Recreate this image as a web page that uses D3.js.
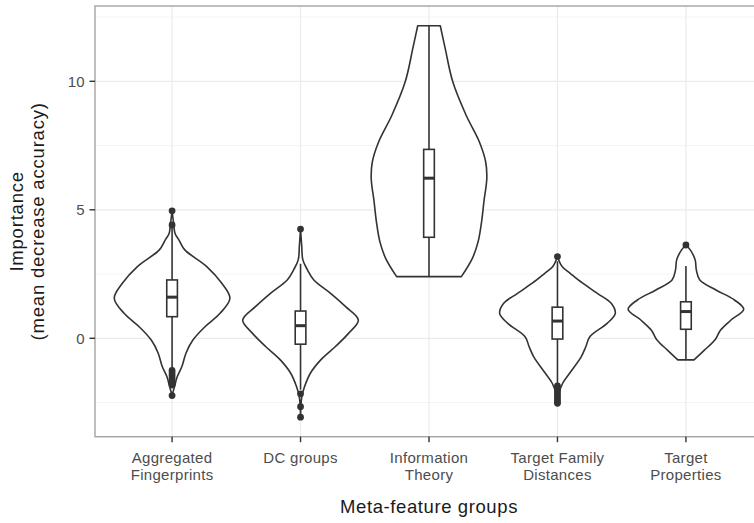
<!DOCTYPE html>
<html>
<head>
<meta charset="utf-8">
<script src="https://cdn.jsdelivr.net/npm/d3@7"></script>
<style>
  body { margin: 0; background: #fff; }
  svg { display: block; font-family: "Liberation Sans", Arial, Helvetica, sans-serif; }
</style>
</head>
<body>
<div id="chart"></div>
<script>
(function () {
    'use strict';

    // categories on the x axis, tick labels split on "\n"
    var groups = ['Aggregated\nFingerprints', 'DC groups', 'Information\nTheory', 'Target Family\nDistances', 'Target\nProperties'];

    // violin outlines: [importance, relative density]
    var violinAF = [[4.96, 0], [4.41, 0.03], [4.09, 0.05], [3.82, 0.12], [3.44, 0.22], [2.79, 0.6], [2.14, 0.86], [1.56, 1.0],
        [0.97, 0.83], [0.45, 0.57], [-0.07, 0.36], [-0.58, 0.24], [-1.1, 0.17], [-1.49, 0.09], [-1.9, 0.04], [-2.21, 0]];
    var violinDC = [[4.25, 0], [3.6, 0.02], [3.05, 0.04], [2.66, 0.12], [2.27, 0.23], [1.75, 0.52], [1.23, 0.78], [0.71, 1.0],
        [0.19, 0.83], [-0.33, 0.6], [-0.84, 0.35], [-1.36, 0.17], [-1.88, 0.07], [-2.3, 0.02], [-3.07, 0]];
    var violinIT = [[12.16, 0.195], [11.28, 0.28], [9.99, 0.41], [8.69, 0.64], [7.65, 0.87], [6.87, 0.98], [6.23, 1.0],
        [5.32, 0.95], [4.54, 0.91], [3.76, 0.85], [3.11, 0.75], [2.40, 0.56]];
    var violinTF = [[3.18, 0], [2.79, 0.08], [2.53, 0.22], [2.27, 0.36], [1.75, 0.69], [1.36, 0.93], [0.97, 1.0], [0.58, 0.86],
        [0.06, 0.56], [-0.33, 0.49], [-0.72, 0.41], [-1.36, 0.21], [-1.75, 0.09], [-2.2, 0.02], [-2.53, 0]];
    var violinTP = [[3.63, 0], [3.44, 0.075], [3.05, 0.16], [2.66, 0.18], [2.27, 0.24], [1.88, 0.52], [1.49, 0.84], [1.13, 1.0],
        [0.71, 0.78], [0.32, 0.6], [-0.07, 0.5], [-0.46, 0.32], [-0.84, 0.14]];
    var violins = [violinAF, violinDC, violinIT, violinTF, violinTP];

    // box plot stats: [lower whisker, q1, median, q3, upper whisker]
    var boxStats = [
        [-1.2, 0.84, 1.6, 2.27, 4.3],
        [-2.0, -0.23, 0.49, 1.06, 2.9],
        [2.40, 3.93, 6.23, 7.35, 12.16],
        [-1.8, -0.03, 0.67, 1.21, 3.0],
        [-0.84, 0.35, 1.04, 1.42, 2.81]
    ];

    // outlier points
    var outliers = [
        [4.96, 4.41, -1.25, -1.35, -1.45, -1.55, -1.65, -1.75, -1.82, -2.23],
        [4.25, -2.16, -2.66, -3.07],
        [],
        [3.18, -1.85, -1.95, -2.05, -2.15, -2.25, -2.35, -2.45, -2.53],
        [3.63]
    ];

    var yTicks = [0, 5, 10];
    var yMinor = [-2.5, 2.5, 7.5, 12.5];

    var width = 754;
    var height = 523;
    var margin = { top: 6, right: -9, bottom: 86.3, left: 95 };
    var inkColor = '#333333';
    var lineW = 1.6;

    var svg = d3.select('#chart').append('svg')
        .attr('width', width)
        .attr('height', height);

    var plotLeft = margin.left;
    var plotRight = width - margin.right;
    var plotTop = margin.top;
    var plotBottom = height - margin.bottom;

    var x = d3.scalePoint()
        .domain(groups)
        .range([plotLeft, plotRight])
        .padding(0.6);

    var y = d3.scaleLinear()
        .domain([-3.83, 12.93])
        .range([plotBottom, plotTop]);

    var step = x.step();
    var halfMax = step * 0.45;
    var boxHalf = step * 0.0415;

    // grid
    var grid = svg.append('g');
    grid.selectAll('.minor')
        .data(yMinor)
        .enter().append('line')
        .attr('x1', plotLeft).attr('x2', plotRight)
        .attr('y1', function (d) { return y(d); })
        .attr('y2', function (d) { return y(d); })
        .attr('stroke', '#f2f2f2')
        .attr('stroke-width', 0.9);
    grid.selectAll('.major-y')
        .data(yTicks)
        .enter().append('line')
        .attr('x1', plotLeft).attr('x2', plotRight)
        .attr('y1', function (d) { return y(d); })
        .attr('y2', function (d) { return y(d); })
        .attr('stroke', '#ebebeb')
        .attr('stroke-width', 1.2);
    grid.selectAll('.major-x')
        .data(groups)
        .enter().append('line')
        .attr('y1', plotTop).attr('y2', plotBottom)
        .attr('x1', function (d) { return x(d); })
        .attr('x2', function (d) { return x(d); })
        .attr('stroke', '#ebebeb')
        .attr('stroke-width', 1.2);

    // violins
    var plot = svg.append('g');
    groups.forEach(function (g, i) {
        var cx = x(g);
        var area = d3.area()
            .curve(d3.curveCatmullRom.alpha(0.5))
            .y(function (d) { return y(d[0]); })
            .x0(function (d) { return cx - d[1] * halfMax; })
            .x1(function (d) { return cx + d[1] * halfMax; });

        var pts = violins[i];
        // outline as closed path: left side top to bottom, right side back up
        var left = d3.line()
            .curve(d3.curveCatmullRom.alpha(0.5))
            .x(function (d) { return cx - d[1] * halfMax; })
            .y(function (d) { return y(d[0]); });
        var right = d3.line()
            .curve(d3.curveCatmullRom.alpha(0.5))
            .x(function (d) { return cx + d[1] * halfMax; })
            .y(function (d) { return y(d[0]); });

        plot.append('path')
            .attr('d', area(pts))
            .attr('fill', '#fff')
            .attr('stroke', 'none');
        plot.append('path')
            .attr('d', left(pts) + 'L' + right(pts.slice().reverse()).slice(1) + 'Z')
            .attr('fill', 'none')
            .attr('stroke', inkColor)
            .attr('stroke-width', lineW)
            .attr('stroke-linejoin', 'round');

        var s = boxStats[i];
        var box = plot.append('g');
        box.append('line')
            .attr('x1', cx).attr('x2', cx)
            .attr('y1', y(s[0])).attr('y2', y(s[4]))
            .attr('stroke', inkColor)
            .attr('stroke-width', lineW);
        box.append('rect')
            .attr('x', cx - boxHalf)
            .attr('width', boxHalf * 2)
            .attr('y', y(s[3]))
            .attr('height', y(s[1]) - y(s[3]))
            .attr('fill', '#fff')
            .attr('stroke', inkColor)
            .attr('stroke-width', lineW);
        box.append('line')
            .attr('x1', cx - boxHalf).attr('x2', cx + boxHalf)
            .attr('y1', y(s[2])).attr('y2', y(s[2]))
            .attr('stroke', inkColor)
            .attr('stroke-width', 3);

        box.selectAll('circle')
            .data(outliers[i])
            .enter().append('circle')
            .attr('cx', cx)
            .attr('cy', function (d) { return y(d); })
            .attr('r', 3.4)
            .attr('fill', inkColor);
    });

    // panel border
    svg.append('rect')
        .attr('x', plotLeft).attr('y', plotTop)
        .attr('width', plotRight - plotLeft)
        .attr('height', plotBottom - plotTop)
        .attr('fill', 'none')
        .attr('stroke', '#a3a3a3')
        .attr('stroke-width', 1.4);

    // y axis ticks and labels
    var yAxis = svg.append('g');
    yAxis.selectAll('line')
        .data(yTicks)
        .enter().append('line')
        .attr('x1', plotLeft - 5.5).attr('x2', plotLeft)
        .attr('y1', function (d) { return y(d); })
        .attr('y2', function (d) { return y(d); })
        .attr('stroke', inkColor)
        .attr('stroke-width', 1.4);
    yAxis.selectAll('text')
        .data(yTicks)
        .enter().append('text')
        .attr('x', plotLeft - 10.5)
        .attr('y', function (d) { return y(d); })
        .attr('dy', '0.36em')
        .attr('text-anchor', 'end')
        .attr('font-size', 15)
        .attr('fill', '#4d4d4d')
        .text(function (d) { return d; });

    // x axis ticks and labels
    var xAxis = svg.append('g');
    xAxis.selectAll('line')
        .data(groups)
        .enter().append('line')
        .attr('y1', plotBottom).attr('y2', plotBottom + 5.5)
        .attr('x1', function (d) { return x(d); })
        .attr('x2', function (d) { return x(d); })
        .attr('stroke', inkColor)
        .attr('stroke-width', 1.4);
    xAxis.selectAll('text')
        .data(groups)
        .enter().append('text')
        .attr('text-anchor', 'middle')
        .attr('font-size', 15)
        .attr('letter-spacing', 0.3)
        .attr('fill', '#4d4d4d')
        .each(function (d) {
            var t = d3.select(this);
            d.split('\n').forEach(function (line, k) {
                t.append('tspan')
                    .attr('x', x(d))
                    .attr('y', 463 + k * 16.8)
                    .text(line);
            });
        });

    // axis titles
    svg.append('text')
        .attr('x', (plotLeft + plotRight) / 2)
        .attr('y', 513)
        .attr('text-anchor', 'middle')
        .attr('font-size', 18.5)
        .attr('letter-spacing', 0.6)
        .attr('fill', '#1a1a1a')
        .text('Meta-feature groups');

    var yTitle = svg.append('text')
        .attr('transform', 'translate(0,' + ((plotTop + plotBottom) / 2) + ') rotate(-90)')
        .attr('text-anchor', 'middle')
        .attr('font-size', 18.5)
        .attr('letter-spacing', 0.8)
        .attr('fill', '#1a1a1a');
    yTitle.append('tspan').attr('x', 0).attr('y', 23).text('Importance');
    yTitle.append('tspan').attr('x', 0).attr('y', 44).text('(mean decrease accuracy)');
})();
</script>
</body>
</html>
